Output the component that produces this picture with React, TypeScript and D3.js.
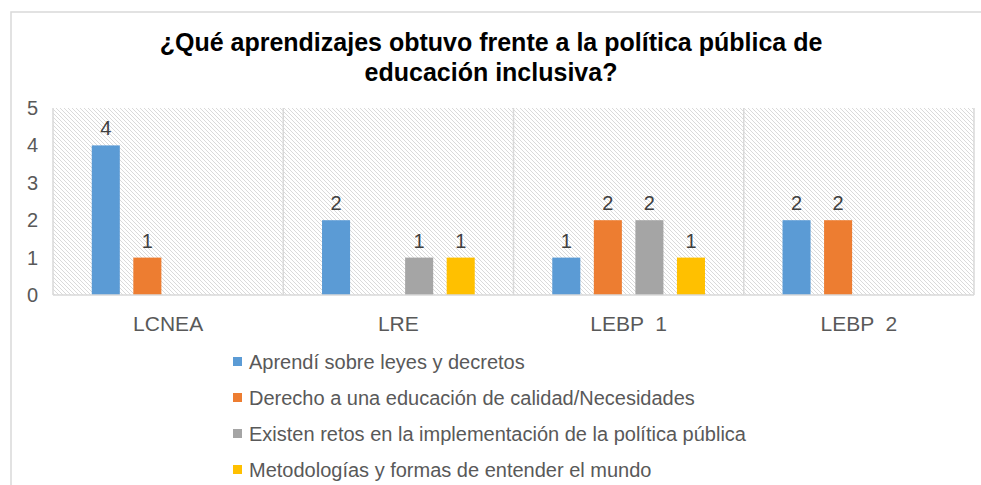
import React from "react";
import * as d3 from "d3";

const categories = ["LCNEA", "LRE", "LEBP  1", "LEBP  2"];
const seriesNames = [
  "Aprendí sobre leyes y decretos",
  "Derecho a una educación de calidad/Necesidades",
  "Existen retos en la implementación de la política pública",
  "Metodologías y formas de entender el mundo",
];
const seriesColors = ["#5B9BD5", "#ED7D31", "#A5A5A5", "#FFC000"];
// values per series, per category (null = no bar)
const aprendiValues: (number | null)[] = [4, 2, 1, 2];
const derechoValues: (number | null)[] = [1, null, 2, 2];
const retosValues: (number | null)[] = [null, 1, 2, null];
const metodologiasValues: (number | null)[] = [null, 1, 1, null];
const seriesValues = [aprendiValues, derechoValues, retosValues, metodologiasValues];
const yTicks = [0, 1, 2, 3, 4, 5];
const titleLines = [
  "¿Qué aprendizajes obtuvo frente a la política pública de",
  "educación inclusiva?",
];

const W = 981;
const H = 485;
const plot = { left: 53, right: 974, top: 108, bottom: 295 };
const FONT = "'Liberation Sans', Arial, sans-serif";

export default function App() {
  const x = d3
    .scaleBand<string>()
    .domain(categories)
    .range([plot.left, plot.right])
    .paddingInner(0)
    .paddingOuter(0);
  const xs = d3
    .scaleBand<string>()
    .domain(seriesNames)
    .range([0, x.bandwidth()])
    .paddingInner(0.325)
    .paddingOuter(0.933);
  const y = d3.scaleLinear().domain([0, 5]).range([plot.bottom, plot.top]);

  const boundaries = categories.map((c) => x(c)!).concat([plot.right]);

  return (
    <svg
      width={W}
      height={H}
      style={{ position: "absolute", left: 0, top: 0, fontFamily: FONT }}
    >
      <defs>
        <pattern
          id="hatch"
          patternUnits="userSpaceOnUse"
          width={4}
          height={4}
        >
          <rect width={4} height={4} fill="#ffffff" />
          <path d="M-1,-1 L5,5 M-1,3 L1,5 M3,-1 L5,1" stroke="#dadada" strokeWidth={1} />
        </pattern>
      </defs>
      <rect x={0} y={0} width={W} height={H} fill="#ffffff" />
      <rect
        x={11}
        y={12}
        width={W + 20}
        height={H + 20}
        fill="#ffffff"
        stroke="#d9d9d9"
        strokeWidth={1.5}
      />
      {/* title */}
      {titleLines.map((t, i) => (
        <text
          key={i}
          x={491}
          y={51 + i * 30}
          textAnchor="middle"
          fontSize={25}
          fontWeight="bold"
          fill="#000000"
        >
          {t}
        </text>
      ))}
      {/* plot background */}
      <rect
        x={plot.left}
        y={plot.top}
        width={plot.right - plot.left}
        height={plot.bottom - plot.top}
        fill="url(#hatch)"
      />
      {/* vertical category boundary gridlines */}
      {boundaries.map((b, i) => (
        <line
          key={i}
          x1={b}
          x2={b}
          y1={plot.top}
          y2={plot.bottom}
          stroke="#d9d9d9"
          strokeWidth={1.5}
        />
      ))}
      {/* bars */}
      {seriesNames.map((s, si) =>
        categories.map((c, ci) => {
          const v = seriesValues[si][ci];
          if (v == null) return null;
          const bx = x(c)! + xs(s)!;
          return (
            <g key={s + c}>
              <rect
                x={bx}
                y={y(v)}
                width={xs.bandwidth()}
                height={y(0) - y(v)}
                fill={seriesColors[si]}
              />
              <text
                x={bx + xs.bandwidth() / 2}
                y={y(v) - 10}
                textAnchor="middle"
                fontSize={20}
                fill="#404040"
              >
                {v}
              </text>
            </g>
          );
        })
      )}
      {/* x axis line */}
      <line
        x1={plot.left}
        x2={plot.right}
        y1={plot.bottom}
        y2={plot.bottom}
        stroke="#d9d9d9"
        strokeWidth={1.5}
      />
      {/* y tick labels */}
      {yTicks.map((t) => (
        <text
          key={t}
          x={38}
          y={y(t) + 7}
          textAnchor="end"
          fontSize={20}
          fill="#595959"
        >
          {t}
        </text>
      ))}
      {/* x labels */}
      {categories.map((c) => (
        <text
          key={c}
          x={x(c)! + x.bandwidth() / 2}
          y={331}
          textAnchor="middle"
          fontSize={21}
          fill="#595959"
          style={{ whiteSpace: "pre" }}
        >
          {c}
        </text>
      ))}
      {/* legend */}
      {seriesNames.map((s, i) => (
        <g key={s} transform={`translate(233, ${362 + i * 36})`}>
          <rect x={0} y={-5} width={9} height={9} fill={seriesColors[i]} />
          <text x={16} y={7} fontSize={20} fill="#595959">
            {s}
          </text>
        </g>
      ))}
    </svg>
  );
}
